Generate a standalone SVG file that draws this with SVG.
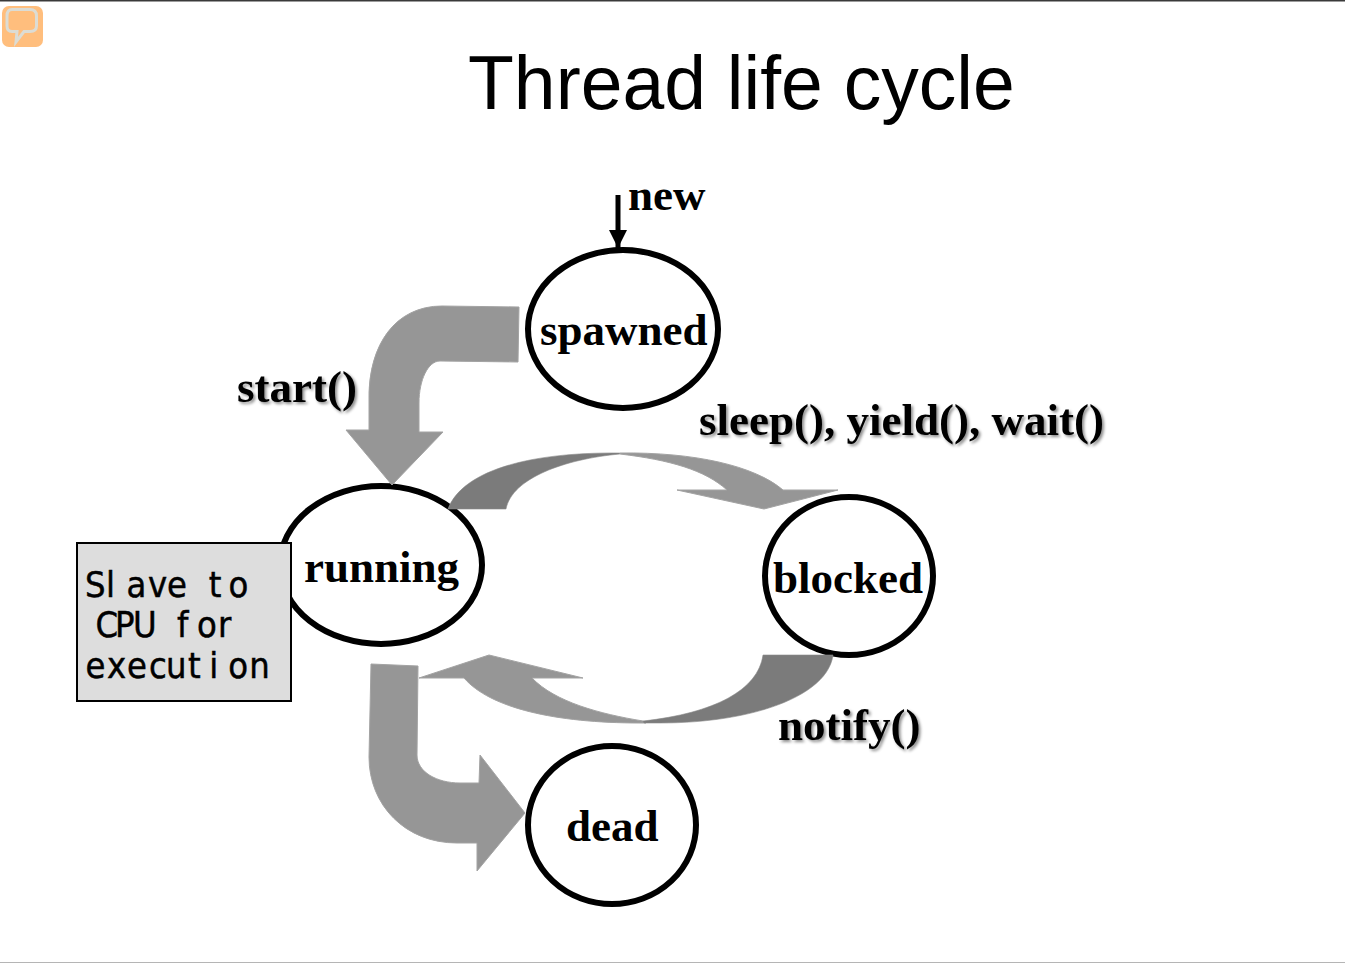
<svg xmlns="http://www.w3.org/2000/svg" width="1345" height="963" viewBox="0 0 1345 963">
<style>
.state{fill:#fff;stroke:#000;stroke-width:6}
.lb{font-family:"Liberation Serif","Times New Roman",serif;font-weight:bold;font-size:45px;fill:#000}
.sh{filter:url(#shadow)}
.light{fill:#969696;stroke:#a3a3a3;stroke-width:1}
.dark{fill:#7b7b7b;stroke:#8a8a8a;stroke-width:.6}
.note{font-family:"DejaVu Sans",sans-serif;font-size:36px;fill:#000;stroke:#000;stroke-width:.5}
</style>
<defs>
<filter id="shadow" x="-10%" y="-20%" width="120%" height="150%"><feDropShadow dx="2" dy="2" stdDeviation="1.4" flood-color="#000" flood-opacity=".45"/></filter>
<marker id="head" markerUnits="userSpaceOnUse" markerWidth="20" markerHeight="18" refX="18" refY="9" orient="auto"><path d="M0 0L18 9L0 18Z" fill="#000"/></marker>
</defs>
<rect width="1345" height="963" fill="#fff"/>
<rect x="0" y="0" width="1345" height="1.5" fill="#3a3a3a"/>
<rect x="0" y="962" width="1345" height="1" fill="#b5b5b5"/>
<g id="icon">
<rect x="2" y="6" width="41" height="41" rx="7" fill="#ffbe7d"/>
<path d="M12 9.500H30Q36.500 9.500 36.500 16V26Q36.500 31.500 30 31.500H24L16 42L17 31.500H12Q7 31.500 7 26V16Q7 9.500 12 9.500Z" fill="none" stroke="#dcdcd4" stroke-width="3"/>
</g>
<text id="title" x="468" y="109" font-family="'Liberation Sans',Arial,sans-serif" font-size="75.100" fill="#000">Thread life cycle</text>
<g id="spawned"><ellipse class="state" cx="623" cy="329" rx="95" ry="79"/><text class="lb" x="540" y="345">spawned</text></g>
<g id="running"><ellipse class="state" cx="381" cy="565" rx="101" ry="79"/><text class="lb" x="304" y="582">running</text></g>
<g id="blocked"><ellipse class="state" cx="849" cy="576" rx="84" ry="79"/><text class="lb" x="773" y="593">blocked</text></g>
<g id="dead"><ellipse class="state" cx="612" cy="825" rx="84" ry="79"/><text class="lb" x="566" y="841">dead</text></g>
<g id="note">
<rect x="77" y="543" width="214" height="158" fill="#ddd" stroke="#000" stroke-width="2"/>
<text class="note" transform="scale(.9 1)" x="94.400 117.800 140.600 164.400 185.600 211 232 254" y="597">Slave to</text>
<text class="note" transform="scale(.9 1)" x="106.100 127.800 147.800 176 196.700 218.900 242.200" y="637">CPU for</text>
<text class="note" transform="scale(.9 1)" x="95 118.900 141.100 165.600 184.400 208.900 232.500 253.500 277" y="678">execution</text>
</g>
<g id="connectors">
<path d="M618 195V248" stroke="#000" stroke-width="5" fill="none" marker-end="url(#head)"/>
<path class="light" d="M519 307L442 306C395 306 369 345 369 397V430H346L392 485L443 432H419V403C419 380 428 361 440 361L518 362Z"/>
<path class="light" d="M371 664L418 666L417 755C417 772 437 783 460 783H479L480 755L525 813L477 871L477 843H457C405 843 369 805 369 757Z"/>
<path class="dark" d="M448 509C462 472 525 452 620 453V454C565 459 512 478 506 509Z"/>
<path class="light" d="M620 453C695 452 755 466 783 490H838L764 509L677 490H727C705 470 670 460 620 454Z"/>
<path class="light" d="M643 721L646 723H640C555 723 490 708 464 678H419L489 655L583 678H532C555 702 600 714 643 721Z"/>
<path class="dark" d="M763 655H833C828 695 755 723 660 723H644L643 721C715 713 758 690 763 655Z"/>
</g>
<g id="labels">
<text class="lb" x="628" y="210">new</text>
<text class="lb sh" x="237" y="402">start()</text>
<text class="lb sh" x="699" y="435">sleep(), yield(), wait()</text>
<text class="lb sh" x="778" y="740">notify()</text>
</g>
</svg>
